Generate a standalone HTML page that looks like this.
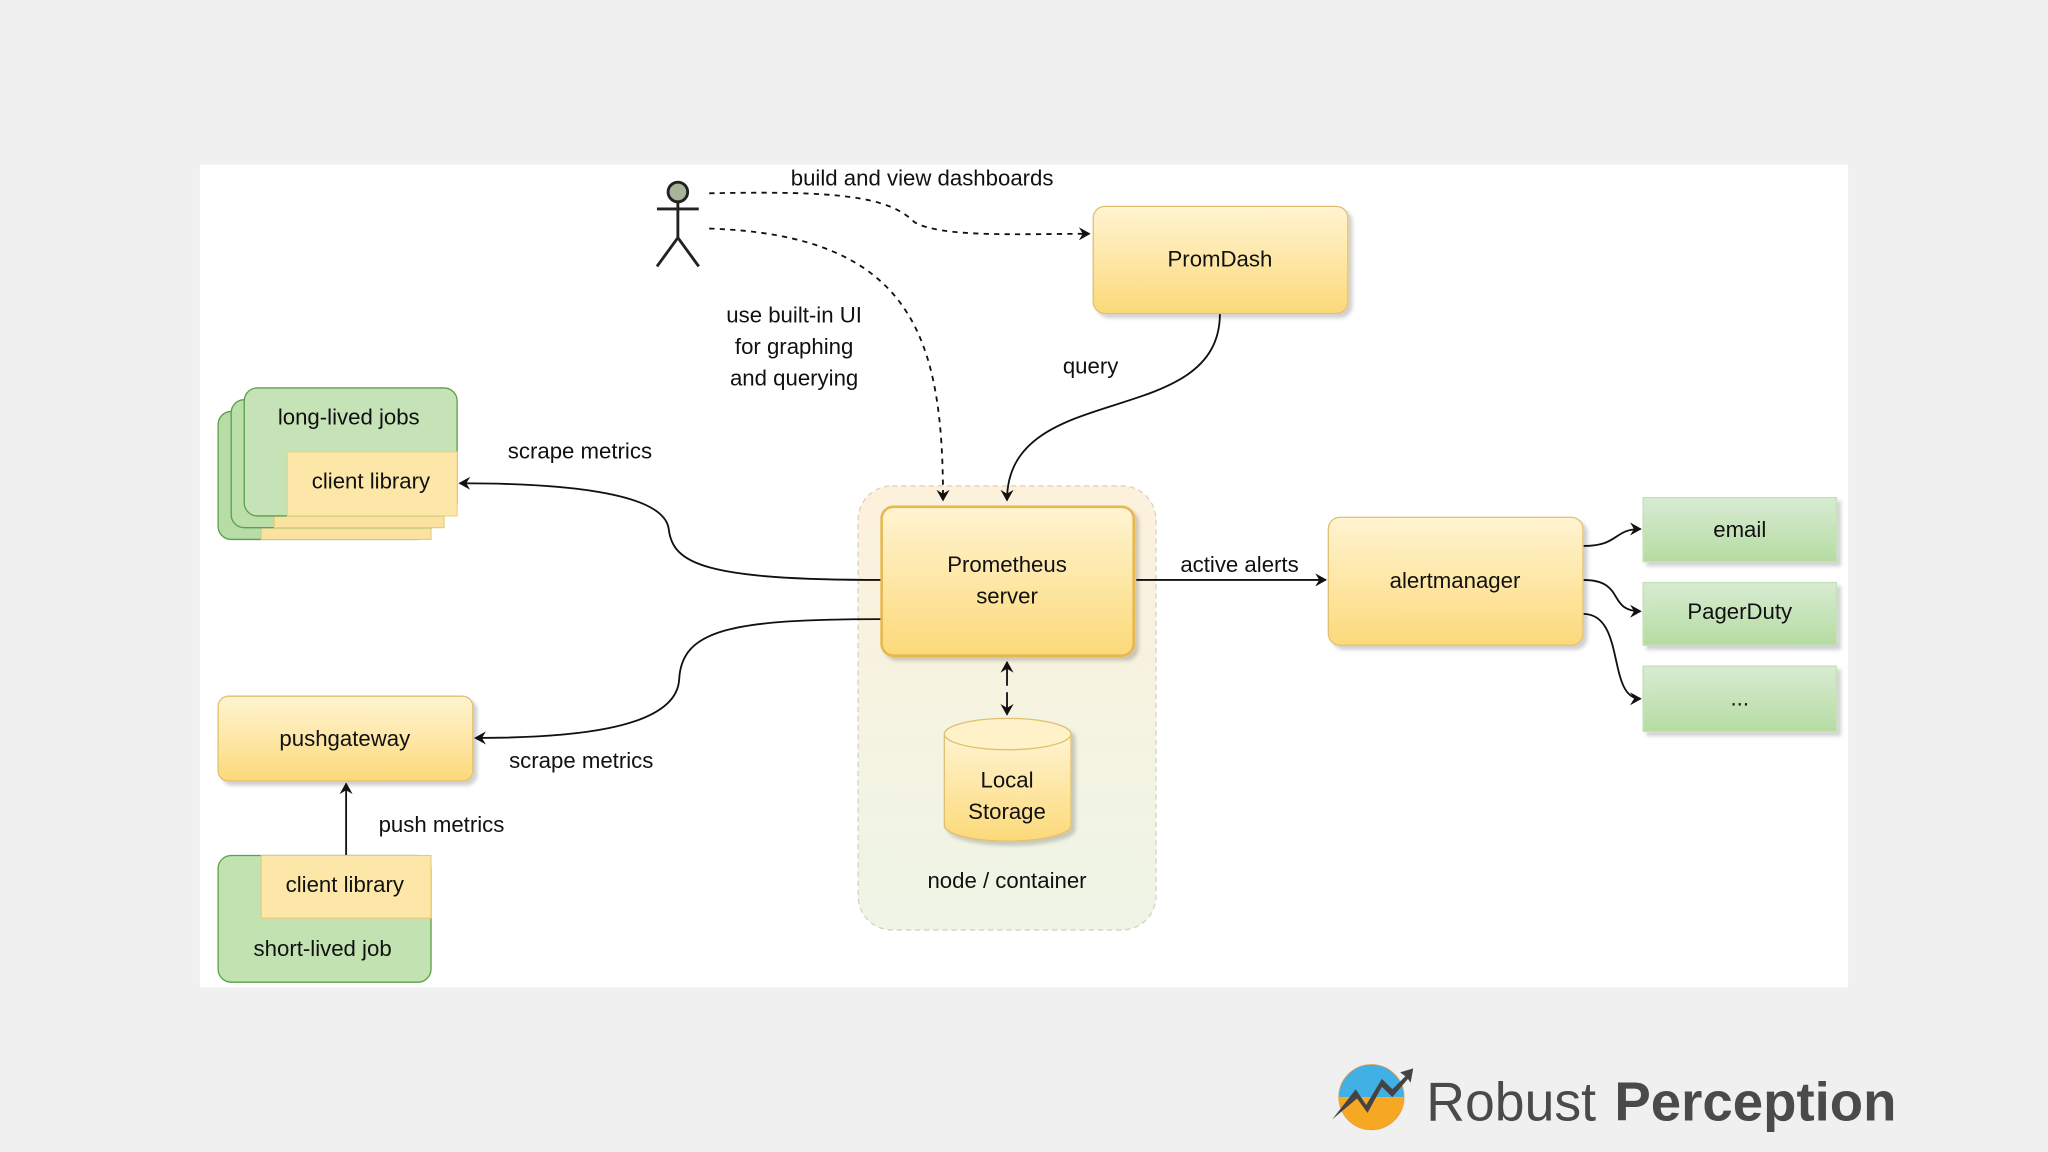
<!DOCTYPE html>
<html><head><meta charset="utf-8"><style>
html,body{margin:0;padding:0;background:#f0f0f0;}
svg{display:block;}
text{font-family:"Liberation Sans",Arial,sans-serif;fill:#111;}
</style></head><body>
<svg width="2048" height="1152" viewBox="0 0 1568 882" xmlns="http://www.w3.org/2000/svg">
<defs>
<linearGradient id="y" x1="0" y1="0" x2="0" y2="1"><stop offset="0" stop-color="#fff4d2"/><stop offset="1" stop-color="#fcd97a"/></linearGradient>
<linearGradient id="g" x1="0" y1="0" x2="0" y2="1"><stop offset="0" stop-color="#d8ebd2"/><stop offset="1" stop-color="#b5dca2"/></linearGradient>
<linearGradient id="n" x1="0" y1="0" x2="0" y2="1"><stop offset="0" stop-color="#fdf1dc"/><stop offset="1" stop-color="#eef5e6"/></linearGradient>
<marker id="a" markerWidth="10" markerHeight="10" refX="8" refY="5" orient="auto" markerUnits="userSpaceOnUse"><path d="M0,0 L9,5 L0,10 L3,5 z" fill="#111"/></marker>
<filter id="s" x="-10%" y="-10%" width="130%" height="130%"><feDropShadow dx="3" dy="3" stdDeviation="1.5" flood-color="#000" flood-opacity="0.18"/></filter>
</defs>
<rect x="0" y="0" width="1568" height="882" fill="#f0f0f0"/>
<rect x="153" y="126" width="1262" height="630" fill="#fff"/>

<rect x="657" y="372" width="228" height="340" rx="26" fill="url(#n)" stroke="#d8d0c0" stroke-dasharray="4,3"/>

<g stroke="#222" stroke-width="2.2" fill="none">
<circle cx="519" cy="147" r="7.5" fill="#a9b39a"/>
<line x1="519" y1="155" x2="519" y2="182"/>
<line x1="503" y1="160" x2="535" y2="160"/>
<line x1="519" y1="182" x2="503" y2="204"/>
<line x1="519" y1="182" x2="535" y2="204"/>
</g>

<g stroke="#111" stroke-width="1.4" fill="none">
<path d="M543,148 C640,146 680,150 700,170 C720,182 780,179 834,179" stroke-dasharray="4,4" marker-end="url(#a)"/>
<path d="M543,175 C700,180 722,260 722,383" stroke-dasharray="4,4" marker-end="url(#a)"/>
<path d="M934,240 C934,330 771,290 771,383" marker-end="url(#a)"/>
<path d="M675,444 C540,444 515,432 512,405 C508,375 420,370 352,370" marker-end="url(#a)"/>
<path d="M675,474 C560,474 522,482 520,520 C518,560 430,565 364,565" marker-end="url(#a)"/>
<path d="M265,655 L265,600" marker-end="url(#a)"/>
<path d="M771,530 L771,547" marker-end="url(#a)"/>
<path d="M771,525 L771,507" marker-end="url(#a)"/>
<path d="M870,444 L1015,444" marker-end="url(#a)"/>
<path d="M1212,418 C1240,418 1235,405 1256,405" marker-end="url(#a)"/>
<path d="M1212,444 C1245,444 1230,468 1256,468" marker-end="url(#a)"/>
<path d="M1212,470 C1245,470 1230,535 1256,535" marker-end="url(#a)"/>
</g>

<rect x="837" y="158" width="195" height="82" rx="9" fill="url(#y)" stroke="#e0c070" filter="url(#s)"/>
<text x="934" y="204" font-size="17" text-anchor="middle">PromDash</text>

<rect x="675" y="388" width="193" height="114" rx="9" fill="url(#y)" stroke="#e6b850" stroke-width="2" filter="url(#s)"/>
<text x="771" y="438" font-size="17" text-anchor="middle">Prometheus</text>
<text x="771" y="462" font-size="17" text-anchor="middle">server</text>

<g filter="url(#s)">
<path d="M723,562 L723,632 A48.5,12 0 0 0 820,632 L820,562 Z" fill="url(#y)" stroke="#e0c070"/>
<ellipse cx="771.5" cy="562" rx="48.5" ry="12" fill="#fff1c8" stroke="#e0c070"/>
</g>
<text x="771" y="603" font-size="17" text-anchor="middle">Local</text>
<text x="771" y="627" font-size="17" text-anchor="middle">Storage</text>
<text x="771" y="680" font-size="17" text-anchor="middle">node / container</text>

<rect x="1017" y="396" width="195" height="98" rx="9" fill="url(#y)" stroke="#e0c070" filter="url(#s)"/>
<text x="1114" y="450" font-size="17" text-anchor="middle">alertmanager</text>

<rect x="1258" y="381" width="148" height="49" fill="url(#g)" stroke="#c4e0b8" filter="url(#s)"/>
<text x="1332" y="411" font-size="17" text-anchor="middle">email</text>
<rect x="1258" y="446" width="148" height="48" fill="url(#g)" stroke="#c4e0b8" filter="url(#s)"/>
<text x="1332" y="474" font-size="17" text-anchor="middle">PagerDuty</text>
<rect x="1258" y="510" width="148" height="50" fill="url(#g)" stroke="#c4e0b8" filter="url(#s)"/>
<text x="1332" y="540" font-size="17" text-anchor="middle">...</text>

<g>
<rect x="167" y="315" width="163" height="98" rx="10" fill="#b7dca6" stroke="#5aa04a"/>
<rect x="200" y="364" width="130" height="49" fill="#fbe2a0" stroke="#e8c870" stroke-width="0.8"/>
<rect x="177" y="306" width="163" height="98" rx="10" fill="#bcdfaa" stroke="#5aa04a"/>
<rect x="210" y="355" width="130" height="49" fill="#fbe2a0" stroke="#e8c870" stroke-width="0.8"/>
<rect x="187" y="297" width="163" height="98" rx="10" fill="#c5e3b6" stroke="#5aa04a"/>
<path d="M220,346 L350,346 L350,395 L220,395 Z" fill="#fde7a8" stroke="#f0d080" stroke-width="0.8"/>
</g>
<text x="267" y="325" font-size="17" text-anchor="middle">long-lived jobs</text>
<text x="284" y="374" font-size="17" text-anchor="middle">client library</text>
<text x="444" y="351" font-size="17" text-anchor="middle">scrape metrics</text>
<text x="608" y="247" font-size="17" text-anchor="middle">use built-in UI</text>
<text x="608" y="271" font-size="17" text-anchor="middle">for graphing</text>
<text x="608" y="295" font-size="17" text-anchor="middle">and querying</text>
<text x="706" y="142" font-size="17" text-anchor="middle">build and view dashboards</text>
<text x="835" y="286" font-size="17" text-anchor="middle">query</text>
<text x="949" y="438" font-size="17" text-anchor="middle">active alerts</text>

<rect x="167" y="533" width="195" height="65" rx="8" fill="url(#y)" stroke="#e0c070" filter="url(#s)"/>
<text x="264" y="571" font-size="17" text-anchor="middle">pushgateway</text>
<text x="445" y="588" font-size="17" text-anchor="middle">scrape metrics</text>
<text x="338" y="637" font-size="17" text-anchor="middle">push metrics</text>

<rect x="167" y="655" width="163" height="97" rx="10" fill="#c2e2b2" stroke="#5aa04a"/>
<rect x="200" y="655" width="130" height="48" fill="#fde7a8" stroke="#e8c870" stroke-width="0.8"/>
<text x="264" y="683" font-size="17" text-anchor="middle">client library</text>
<text x="247" y="732" font-size="17" text-anchor="middle">short-lived job</text>

<g>
<path d="M1025,840 A25,25 0 0 1 1075,840 Z" fill="#41b0e4"/>
<path d="M1025,840 A25,25 0 0 0 1075,840 Z" fill="#f7a823"/>
<circle cx="1050" cy="840" r="25" fill="none" stroke="#e0a050" stroke-width="0.6"/>
<path d="M1020,857 L1038,834 L1046,846 L1058,826 L1066,834 L1076,824 L1072,821 L1082,818 L1080,829 L1078,826 L1066,840 L1058,832 L1047,852 L1039,841 Z" fill="#444"/>
</g>
<text x="1092" y="858" font-size="42" textLength="130" lengthAdjust="spacingAndGlyphs" style="fill:#4a4a4a">Robust</text>
<text x="1236" y="858" font-size="42" font-weight="bold" textLength="216" lengthAdjust="spacingAndGlyphs" style="fill:#4a4a4a">Perception</text>
</svg>
</body></html>
